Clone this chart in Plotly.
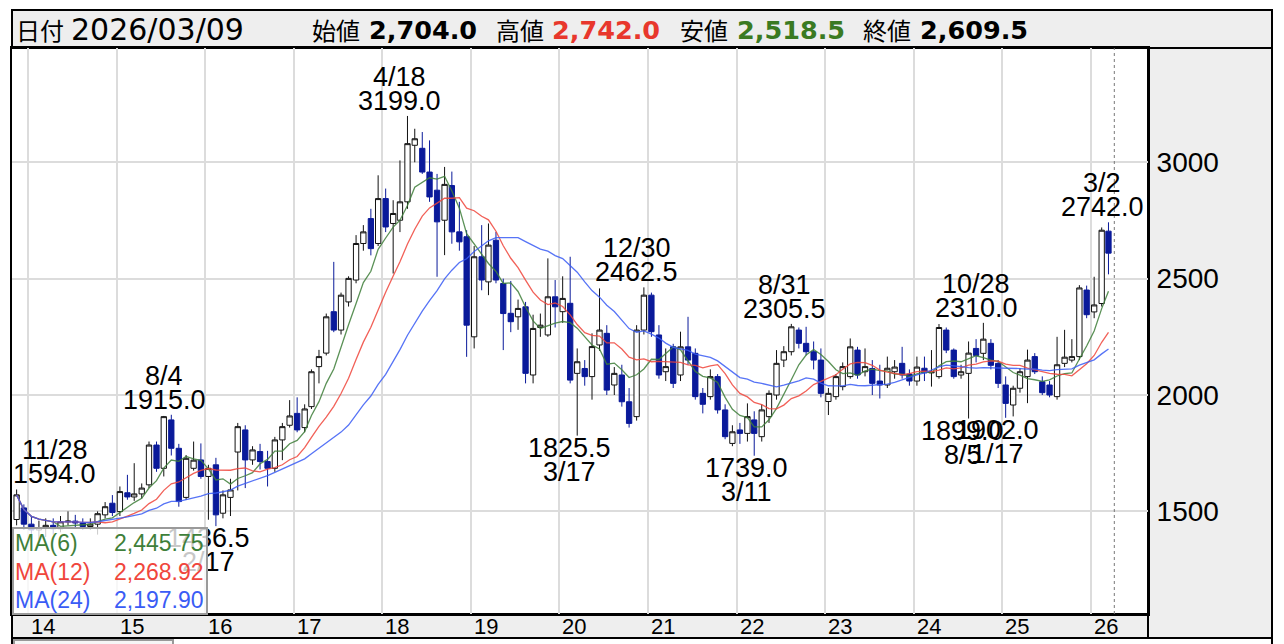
import plotly.graph_objects as go
import pandas as pd

# ---------------- data (monthly candles, 2013-11 .. 2026-03) ----------------
first_month = "2013-11-01"
opens = [
    1465, 1515,
    1445, 1420, 1430, 1440, 1425, 1455, 1458, 1450, 1435, 1445, 1485, 1535,
    1499, 1580, 1562, 1575, 1614, 1785, 1685, 1893, 1771, 1560, 1685, 1721,
    1650, 1700, 1492, 1560, 1755, 1850, 1721, 1757, 1714, 1685, 1807, 1870,
    1921, 1860, 1950, 2122, 2180, 2358, 2279, 2400, 2494, 2651, 2758, 2651,
    2844, 2737, 2751, 2830, 3073, 3060, 2958, 2880, 2751, 2900, 2701, 2680,
    2250, 2594, 2486, 2665, 2479, 2351, 2336, 2379, 2086, 2290, 2258, 2422,
    2358, 2394, 2093, 2114, 2079, 2215, 2265, 2043, 2086, 1971, 1907, 2279,
    2429, 2258, 2100, 2207, 2086, 2207, 2179, 2007, 1993, 2079, 1936, 1792,
    1850, 1835, 1893, 1821, 1907, 2000, 2150, 2186, 2279, 2222, 2186, 2150,
    1972, 1993, 2036, 2079, 2193, 2100, 2114, 2060, 2043, 2100, 2136, 2090,
    2060, 2115, 2095, 2079, 2279, 2193, 2086, 2093, 2200, 2179, 2222, 2136,
    2043, 1957, 2029, 2079, 2165, 2057, 2043, 1993, 2136, 2150, 2165, 2451,
    2357, 2393, 2704,
]
highs = [
    1594, 1530,
    1480, 1460, 1470, 1470, 1480, 1500, 1485, 1470, 1470, 1500, 1540, 1570,
    1607, 1657, 1707, 1620, 1800, 1800, 1910, 1915, 1790, 1742, 1800, 1792,
    1700, 1730, 1590, 1640, 1880, 1870, 1780, 1790, 1760, 1820, 1880, 1978,
    1990, 1960, 2110, 2194, 2350, 2572, 2440, 2510, 2687, 2730, 2800, 2944,
    2887, 2837, 3008, 3199, 3144, 3130, 3094, 2950, 2980, 2960, 2830, 2708,
    2640, 2730, 2737, 2701, 2500, 2490, 2410, 2400, 2345, 2350, 2587, 2494,
    2510, 2594, 2200, 2150, 2265, 2458, 2300, 2120, 2130, 2030, 2300, 2462.5,
    2440, 2300, 2200, 2220, 2272, 2336, 2200, 2030, 2110, 2090, 1960, 1870,
    1880, 1964, 1930, 1960, 2020, 2193, 2210, 2305.5, 2290, 2293, 2230, 2200,
    2030, 2090, 2140, 2243, 2207, 2200, 2150, 2130, 2165, 2150, 2207, 2110,
    2165, 2165, 2193, 2305, 2290, 2200, 2130, 2230, 2240, 2310, 2240, 2150,
    2080, 2040, 2115, 2195, 2180, 2080, 2060, 2250, 2280, 2240, 2472, 2470,
    2508, 2720, 2742,
]
lows = [
    1440, 1420,
    1400, 1380, 1390, 1400, 1410, 1440, 1430, 1420, 1420, 1400, 1470, 1480,
    1480, 1550, 1545, 1555, 1600, 1670, 1650, 1740, 1520, 1549, 1675, 1640,
    1464, 1436.5, 1470, 1480, 1590, 1600, 1700, 1680, 1607, 1670, 1720, 1860,
    1840, 1840, 1940, 2050, 2170, 2270, 2260, 2380, 2480, 2620, 2600, 2640,
    2700, 2522, 2700, 2800, 3000, 2950, 2830, 2508, 2601, 2650, 2620, 2164,
    2200, 2450, 2429, 2480, 2193, 2270, 2280, 2050, 2050, 2250, 2250, 2290,
    2310, 2050, 1825.5, 2040, 1980, 2190, 2000, 2000, 1950, 1860, 1890, 2260,
    2250, 2070, 2060, 2030, 2060, 2130, 1980, 1921, 1980, 1920, 1810, 1780,
    1790, 1800, 1739, 1800, 1880, 1980, 2120, 2170, 2200, 2170, 2110, 1990,
    1914, 1980, 2020, 2070, 2070, 2080, 2000, 1985, 2030, 2070, 2070, 2040,
    2040, 2060, 2036, 2070, 2180, 2070, 2070, 1899, 2140, 2150, 2110, 2030,
    1902, 1908, 2010, 1965, 2090, 2000, 1990, 1980, 2120, 2140, 2150, 2330,
    2330, 2380, 2518.5,
]
closes = [
    1571, 1445,
    1420, 1430, 1440, 1425, 1455, 1458, 1450, 1435, 1445, 1490, 1520, 1495,
    1585, 1562, 1575, 1600, 1785, 1685, 1907, 1771, 1542, 1728, 1720, 1650,
    1685, 1485, 1571, 1592, 1864, 1721, 1764, 1714, 1685, 1807, 1864, 1910,
    1850, 1940, 2100, 2165, 2336, 2279, 2429, 2501, 2651, 2701, 2629, 2844,
    2722, 2780, 2830, 3080, 3101, 2958, 2851, 2744, 2905, 2701, 2658, 2300,
    2594, 2494, 2644, 2494, 2350, 2315, 2372, 2093, 2286, 2300, 2422, 2379,
    2415, 2064, 2143, 2079, 2208, 2279, 2021, 2093, 1971, 1878, 2279, 2429,
    2272, 2086, 2122, 2050, 2207, 2150, 1993, 1960, 2079, 1936, 1821, 1842,
    1835, 1907, 1835, 1936, 2007, 2136, 2186, 2293, 2222, 2186, 2150, 2007,
    2007, 2079, 2122, 2207, 2086, 2122, 2050, 2043, 2115, 2120, 2086, 2060,
    2120, 2095, 2100, 2290, 2193, 2079, 2100, 2180, 2170, 2240, 2127.5, 2050,
    1964, 2029, 2100, 2150, 2100, 2010, 2000, 2130, 2162.5, 2165, 2460, 2345,
    2387, 2708, 2609.5,
]

# high / low markers: (month, price, date text, pixel x shift)
high_marks = [
    ("2013-11", 1594.0, "11/28", 38),
    ("2015-08", 1915.0, "8/4", -7),
    ("2018-04", 3199.0, "4/18", -8),
    ("2020-12", 2462.5, "12/30", -7),
    ("2022-08", 2305.5, "8/31", -7),
    ("2024-10", 2310.0, "10/28", -7),
    ("2026-03", 2742.0, "3/2", -6),
]
low_marks = [
    ("2016-02", 1436.5, "2/17", -7),
    ("2020-03", 1825.5, "3/17", -8),
    ("2022-03", 1739.0, "3/11", -8),
    ("2024-08", 1899.0, "8/5", -6),
    ("2025-01", 1902.0, "1/17", -8),
]

year_ticks = [str(y) for y in range(2014, 2027)]
price_ticks = [1500, 2000, 2500, 3000]
ma_periods = [6, 12, 24]
ma_colors = ["#3f7f3a", "#f0463c", "#3a5cf5"]

header_date = "2026/03/09"
header_items = [("始値", "2,704.0", "#000000"), ("高値", "2,742.0", "#e8372c"),
                ("安値", "2,518.5", "#3a7a22"), ("終値", "2,609.5", "#000000")]

# ---------------- geometry (reference pixels; page body adds an 8px offset) ----------------
OFF = 8
W, H = 1284 - OFF, 644 - OFF
PL, PR, PT, PB = 12, 1148, 48, 614   # plot area in reference pixels


def px(x):
    return (x - PL) / (PR - PL)


def py(y):
    return (PB - y) / (PB - PT)


dates = pd.date_range(first_month, periods=len(closes), freq="MS") + pd.Timedelta(days=14)
cs = pd.Series(closes)

fig = go.Figure()
fig.add_trace(go.Candlestick(
    x=dates, open=opens, high=highs, low=lows, close=closes,
    increasing=dict(line=dict(color="#111111", width=1), fillcolor="#ffffff"),
    decreasing=dict(line=dict(color="#0a1a9a", width=1), fillcolor="#0a1a9a"),
    whiskerwidth=0, showlegend=False, hoverinfo="skip",
))
ma_vals = []
for p, col in zip(ma_periods, ma_colors):
    ma = cs.rolling(p, min_periods=1).mean()
    ma_vals.append(ma.iloc[-1])
    fig.add_trace(go.Scatter(x=dates, y=ma, mode="lines",
                             line=dict(color=col, width=1.3), opacity=0.85,
                             showlegend=False, hoverinfo="skip"))

shapes = []


def prect(x0, x1, y0, y1, fill, lc, lw, layer="below"):
    shapes.append(dict(type="rect", xref="paper", yref="paper", x0=px(x0), x1=px(x1),
                       y0=py(y1), y1=py(y0), fillcolor=fill,
                       line=dict(color=lc, width=lw), layer=layer))


prect(12, 1272, 10, 48, "#eeeeee", "black", 2)      # header band
prect(1148, 1272, 48, 638, "#eeeeee", "black", 2)   # right price strip
prect(12, 1148, 614, 638, "#eeeeee", "black", 2)    # date strip
prect(12, 1272, 638, 660, "#ffffff", "black", 2)    # next panel stub
prect(14, 173, 640, 660, "#f6f6f6", "#999999", 2)
# cursor line
shapes.append(dict(type="line", xref="x", yref="paper", x0="2026-04-08", x1="2026-04-08",
                   y0=0, y1=1, line=dict(color="#777777", width=1, dash="dot")))

ann = []
NUMF = "Liberation Sans"
CJKF = "Noto Sans CJK JP"
HY = 30

ann.append(dict(xref="paper", yref="paper", x=px(14), y=py(HY), xanchor="left", yanchor="middle",
                text="日付", showarrow=False, font=dict(family=CJKF, size=24, color="black")))
ann.append(dict(xref="paper", yref="paper", x=px(69), y=py(HY), xanchor="left", yanchor="middle",
                text=header_date, showarrow=False, font=dict(family="DejaVu Sans", size=30, color="black")))
for (lab, val, col), xl, xv in zip(header_items, [310, 494, 678, 861], [367, 550, 735, 918]):
    ann.append(dict(xref="paper", yref="paper", x=px(xl), y=py(HY), xanchor="left", yanchor="middle",
                    text=lab, showarrow=False, font=dict(family=CJKF, size=24, color="black")))
    ann.append(dict(xref="paper", yref="paper", x=px(xv), y=py(HY), xanchor="left", yanchor="middle",
                    text="<b>%s</b>" % val, showarrow=False,
                    font=dict(family="DejaVu Sans", size=25.5, color=col)))

# year labels in the date strip
for y in year_ticks:
    ann.append(dict(xref="x", yref="paper", x=y + "-01-01", y=py(626), xanchor="center",
                    yanchor="middle", xshift=15, text=y[2:], showarrow=False,
                    font=dict(family=NUMF, size=22, color="black")))

LBL = dict(family=NUMF, size=27, color="black")
for m, pr, dtxt, sh in high_marks:
    d = pd.Timestamp(m + "-15")
    ann.append(dict(x=d, y=pr, xref="x", yref="y", text="%.1f" % pr, showarrow=False,
                    xanchor="center", yanchor="middle", yshift=15, xshift=sh, font=LBL))
    ann.append(dict(x=d, y=pr, xref="x", yref="y", text=dtxt, showarrow=False,
                    xanchor="center", yanchor="middle", yshift=39, xshift=sh, font=LBL))
for m, pr, dtxt, sh in low_marks:
    d = pd.Timestamp(m + "-15")
    ann.append(dict(x=d, y=pr, xref="x", yref="y", text="%.1f" % pr, showarrow=False,
                    xanchor="center", yanchor="middle", yshift=-12, xshift=sh, font=LBL))
    ann.append(dict(x=d, y=pr, xref="x", yref="y", text=dtxt, showarrow=False,
                    xanchor="center", yanchor="middle", yshift=-36, xshift=sh, font=LBL))

# MA legend box (semi transparent, on top of the chart)
ann.append(dict(xref="paper", yref="paper", x=px(12), y=py(527), xanchor="left", yanchor="top",
                text=" ", showarrow=False, width=192, height=84, borderpad=0,
                bgcolor="rgba(255,255,255,0.78)", bordercolor="#9a9a9a", borderwidth=2))
for i, (p, col, v) in enumerate(zip(ma_periods, ma_colors, ma_vals)):
    yy = 543 + i * 28.5
    ann.append(dict(xref="paper", yref="paper", x=px(13), y=py(yy), xanchor="left", yanchor="middle",
                    text="MA(%d)" % p, showarrow=False, font=dict(family=NUMF, size=23, color=col)))
    ann.append(dict(xref="paper", yref="paper", x=px(206), y=py(yy), xanchor="right", yanchor="middle",
                    text="{:,.2f}".format(v), showarrow=False, font=dict(family=NUMF, size=23, color=col)))

fig.update_layout(
    width=W, height=H,
    margin=dict(l=PL - OFF, r=W - (PR - OFF), t=PT - OFF, b=H - (PB - OFF), pad=0),
    paper_bgcolor="white", plot_bgcolor="white",
    shapes=shapes, annotations=ann, showlegend=False,
    boxgap=0.22, boxgroupgap=0,
    xaxis=dict(type="date", range=["2013-10-27", "2026-08-25"],
               tickvals=[y + "-01-01" for y in year_ticks], showticklabels=False,
               ticks="", showgrid=True, gridcolor="#dcdcdc", gridwidth=1.5,
               showline=True, linecolor="black", linewidth=2, mirror=True, automargin=False,
               zeroline=False, rangeslider=dict(visible=False), fixedrange=True),
    yaxis=dict(side="right", range=[1059, 3491], tickvals=price_ticks,
               ticktext=[str(v) for v in price_ticks],
               ticks="outside", ticklen=1, tickcolor="rgba(0,0,0,0)",
               showgrid=True, gridcolor="#dcdcdc", gridwidth=1.5,
               tickfont=dict(family=NUMF, size=28, color="black"),
               showline=True, linecolor="black", linewidth=2, mirror=True, automargin=False,
               zeroline=False, fixedrange=True),
)

fig.write_html("out.html")
